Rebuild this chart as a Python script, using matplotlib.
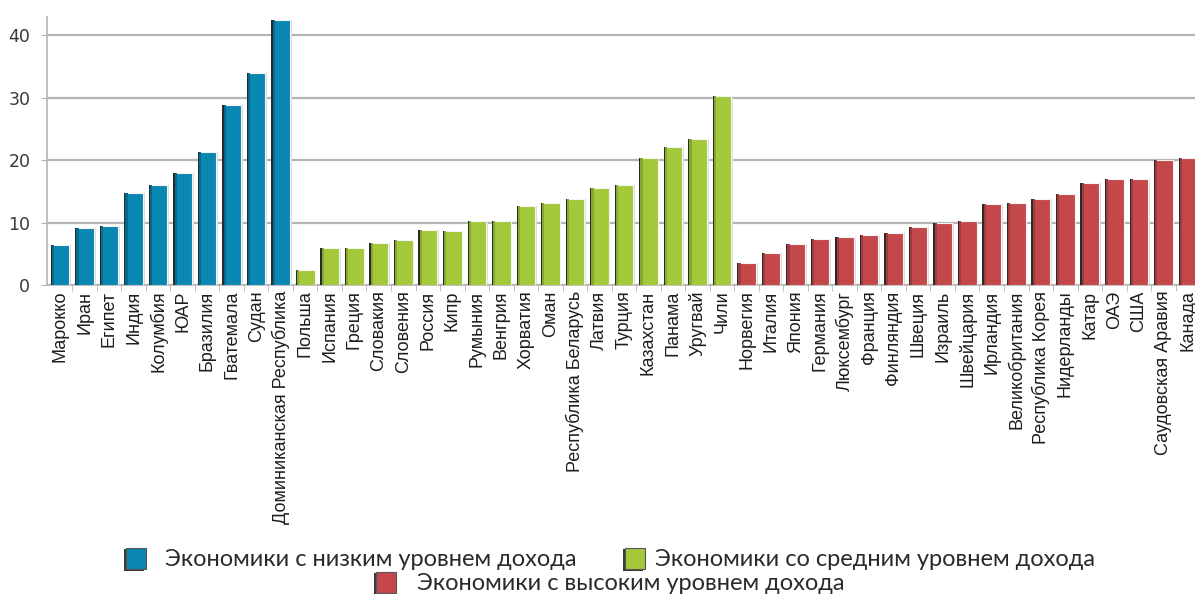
import matplotlib
matplotlib.use("Agg")
import matplotlib.pyplot as plt
from matplotlib.patches import Rectangle
import numpy as np

# Страны по группам дохода
low_names = ["Марокко", "Иран", "Египет", "Индия", "Колумбия", "ЮАР", "Бразилия",
             "Гватемала", "Судан", "Доминиканская Республика"]
low_vals = [6.4, 9.2, 9.5, 14.8, 16.0, 17.9, 21.3, 28.8, 34.0, 42.4]

mid_names = ["Польша", "Испания", "Греция", "Словакия", "Словения", "Россия", "Кипр",
             "Румыния", "Венгрия", "Хорватия", "Оман", "Республика Беларусь", "Латвия",
             "Турция", "Казахстан", "Панама", "Уругвай", "Чили"]
mid_vals = [2.4, 5.9, 5.9, 6.8, 7.2, 8.8, 8.7, 10.2, 10.2, 12.7, 13.1, 13.8, 15.5,
            16.0, 20.3, 22.1, 23.4, 30.3]

high_names = ["Норвегия", "Италия", "Япония", "Германия", "Люксембург", "Франция",
              "Финляндия", "Швеция", "Израиль", "Швейцария", "Ирландия",
              "Великобритания", "Республика Корея", "Нидерланды", "Катар", "ОАЭ",
              "США", "Саудовская Аравия", "Канада"]
high_vals = [3.5, 5.2, 6.6, 7.4, 7.7, 8.0, 8.3, 9.3, 10.0, 10.3, 12.9, 13.1, 13.8,
             14.5, 16.3, 16.9, 16.9, 20.0, 20.4]

group_labels = ["Экономики с низким уровнем дохода",
                "Экономики со средним уровнем дохода",
                "Экономики с высоким уровнем дохода"]
colors = ["#0a87b2", "#a3c93a", "#c4474a"]
dark = ["#066a8c", "#86a82c", "#a23a3d"]

names = low_names + mid_names + high_names
vals = low_vals + mid_vals + high_vals
grp = [0] * len(low_vals) + [1] * len(mid_vals) + [2] * len(high_vals)
x = np.arange(len(vals))
bar_col = [colors[g] for g in grp]
bar_dark = [dark[g] for g in grp]

W, H = 1195, 594
fig = plt.figure(figsize=(W / 100, H / 100), dpi=100)
ax = fig.add_axes([47 / W, 1 - 285 / H, 1 - 47 / W, 268 / H])

w = 0.76
# светлая "тень" справа, сам столбик, тёмная грань слева
ax.bar(x + 0.07, vals, width=w, color="#dcdcdc", zorder=2)
ax.bar(x, vals, width=w, color=bar_col, edgecolor="#f4f4f4", linewidth=0.8, zorder=3)
ax.bar(x - w / 2, vals, width=0.14, align="edge", color=bar_dark, zorder=4)
ax.bar(x - w / 2, vals, width=0.05, align="edge", color="#2a2a2a", zorder=5)

ax.set_xlim(-0.53, len(vals) - 0.71)
ax.set_ylim(0, 42.9)
ax.set_yticks([0, 10, 20, 30, 40])
ax.yaxis.grid(True, color="#b4b4b4", linewidth=1.6, zorder=0)
ax.set_axisbelow(True)

ax.set_xticks(x)
ax.set_xticklabels(names, rotation=90, fontsize=13, color="#1e1e1e",
                   family=["Liberation Sans", "DejaVu Sans"])
ax.set_xticks(x[:-1] + 0.5, minor=True)
ax.tick_params(axis="x", which="major", length=0, pad=4)
ax.tick_params(axis="x", which="minor", length=4, color="#b4b4b4")
ax.tick_params(axis="y", length=4, color="#b4b4b4", labelsize=12.5,
               labelcolor="#3a3a3a", pad=8)

for s in ["top", "right"]:
    ax.spines[s].set_visible(False)
for s in ["left", "bottom"]:
    ax.spines[s].set_color("#b4b4b4")
    ax.spines[s].set_linewidth(1.2)

# легенда: два ряда, вручную
legend_pos = [(126, 559, 165), (625, 559, 655), (376, 583, 417)]
for (sx, cy, tx), c, lab in zip(legend_pos, colors, group_labels):
    fig.add_artist(Rectangle(((sx - 2) / W, 1 - (cy + 12) / H), 20 / W, 22 / H,
                             transform=fig.transFigure, facecolor="#3a3a3a",
                             edgecolor="none"))
    fig.add_artist(Rectangle((sx / W, 1 - (cy + 10) / H), 20 / W, 21 / H,
                             transform=fig.transFigure, facecolor=c,
                             edgecolor="#555555", linewidth=0.8))
    fig.text(tx / W, 1 - cy / H, lab, fontsize=17, color="#2a2a2a",
             family=["Lato", "DejaVu Sans"], va="center", ha="left")

fig.savefig("out.png", dpi=100)
